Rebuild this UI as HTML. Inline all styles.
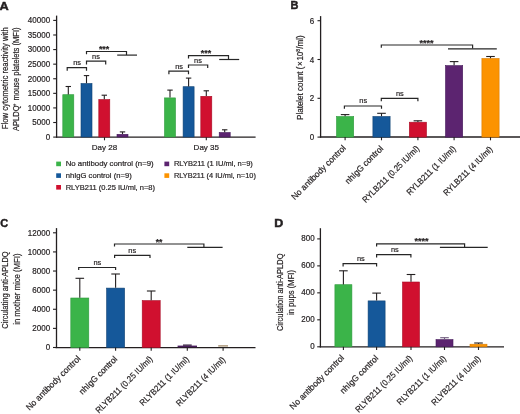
<!DOCTYPE html>
<html><head><meta charset="utf-8"><style>
html,body{margin:0;padding:0;background:#fff;}
svg{display:block;will-change:transform;}
text{font-family:"Liberation Sans",sans-serif;stroke:#231f20;stroke-width:0.2px;}
</style></head><body>
<svg width="520" height="414" viewBox="0 0 520 414" font-family="Liberation Sans, sans-serif">
<rect width="520" height="414" fill="#fff"/>
<text x="-0.40" y="9.50" font-size="11" text-anchor="start" font-weight="bold" fill="#231f20" textLength="9.2" lengthAdjust="spacingAndGlyphs" style="stroke-width:0.45px">A</text>
<line x1="56.60" y1="15.60" x2="56.60" y2="137.60" stroke="#231f20" stroke-width="1.3"/>
<line x1="53.20" y1="137.10" x2="56.60" y2="137.10" stroke="#231f20" stroke-width="1.1"/>
<text x="50.10" y="139.85" font-size="8.4" text-anchor="end" font-weight="normal" fill="#231f20" textLength="4.45" lengthAdjust="spacingAndGlyphs">0</text>
<line x1="53.20" y1="122.51" x2="56.60" y2="122.51" stroke="#231f20" stroke-width="1.1"/>
<text x="50.10" y="125.26" font-size="8.4" text-anchor="end" font-weight="normal" fill="#231f20" textLength="17.8" lengthAdjust="spacingAndGlyphs">5000</text>
<line x1="53.20" y1="107.92" x2="56.60" y2="107.92" stroke="#231f20" stroke-width="1.1"/>
<text x="50.10" y="110.67" font-size="8.4" text-anchor="end" font-weight="normal" fill="#231f20" textLength="22.25" lengthAdjust="spacingAndGlyphs">10000</text>
<line x1="53.20" y1="93.34" x2="56.60" y2="93.34" stroke="#231f20" stroke-width="1.1"/>
<text x="50.10" y="96.09" font-size="8.4" text-anchor="end" font-weight="normal" fill="#231f20" textLength="22.25" lengthAdjust="spacingAndGlyphs">15000</text>
<line x1="53.20" y1="78.75" x2="56.60" y2="78.75" stroke="#231f20" stroke-width="1.1"/>
<text x="50.10" y="81.50" font-size="8.4" text-anchor="end" font-weight="normal" fill="#231f20" textLength="22.25" lengthAdjust="spacingAndGlyphs">20000</text>
<line x1="53.20" y1="64.16" x2="56.60" y2="64.16" stroke="#231f20" stroke-width="1.1"/>
<text x="50.10" y="66.91" font-size="8.4" text-anchor="end" font-weight="normal" fill="#231f20" textLength="22.25" lengthAdjust="spacingAndGlyphs">25000</text>
<line x1="53.20" y1="49.58" x2="56.60" y2="49.58" stroke="#231f20" stroke-width="1.1"/>
<text x="50.10" y="52.33" font-size="8.4" text-anchor="end" font-weight="normal" fill="#231f20" textLength="22.25" lengthAdjust="spacingAndGlyphs">30000</text>
<line x1="53.20" y1="34.99" x2="56.60" y2="34.99" stroke="#231f20" stroke-width="1.1"/>
<text x="50.10" y="37.74" font-size="8.4" text-anchor="end" font-weight="normal" fill="#231f20" textLength="22.25" lengthAdjust="spacingAndGlyphs">35000</text>
<line x1="53.20" y1="20.40" x2="56.60" y2="20.40" stroke="#231f20" stroke-width="1.1"/>
<text x="50.10" y="23.15" font-size="8.4" text-anchor="end" font-weight="normal" fill="#231f20" textLength="22.25" lengthAdjust="spacingAndGlyphs">40000</text>
<line x1="56.00" y1="137.05" x2="255.60" y2="137.05" stroke="#231f20" stroke-width="1.3"/>
<line x1="104.50" y1="137.00" x2="104.50" y2="140.30" stroke="#231f20" stroke-width="1.1"/>
<line x1="206.30" y1="137.00" x2="206.30" y2="140.30" stroke="#231f20" stroke-width="1.1"/>
<text x="104.50" y="150.00" font-size="8.0" text-anchor="middle" font-weight="normal" fill="#231f20">Day 28</text>
<text x="206.30" y="150.00" font-size="8.0" text-anchor="middle" font-weight="normal" fill="#231f20">Day 35</text>
<rect x="62.80" y="94.70" width="11.00" height="42.30" fill="#3bb449" stroke="#2f9a3c" stroke-width="0.6"/>
<line x1="68.30" y1="94.40" x2="68.30" y2="86.50" stroke="#231f20" stroke-width="1.1"/>
<line x1="65.60" y1="86.50" x2="71.00" y2="86.50" stroke="#231f20" stroke-width="1.1"/>
<rect x="81.00" y="83.50" width="11.00" height="53.50" fill="#15589a" stroke="#0f4272" stroke-width="0.6"/>
<line x1="86.50" y1="83.20" x2="86.50" y2="75.60" stroke="#231f20" stroke-width="1.1"/>
<line x1="83.80" y1="75.60" x2="89.20" y2="75.60" stroke="#231f20" stroke-width="1.1"/>
<rect x="98.80" y="99.50" width="11.00" height="37.50" fill="#d0102f" stroke="#a80d26" stroke-width="0.6"/>
<line x1="104.30" y1="99.20" x2="104.30" y2="95.20" stroke="#231f20" stroke-width="1.1"/>
<line x1="101.60" y1="95.20" x2="107.00" y2="95.20" stroke="#231f20" stroke-width="1.1"/>
<rect x="117.00" y="134.30" width="11.00" height="2.70" fill="#5c2470" stroke="#45195a" stroke-width="0.6"/>
<line x1="122.50" y1="134.00" x2="122.50" y2="131.90" stroke="#231f20" stroke-width="1.1"/>
<line x1="119.80" y1="131.90" x2="125.20" y2="131.90" stroke="#231f20" stroke-width="1.1"/>
<rect x="164.50" y="97.90" width="11.00" height="39.10" fill="#3bb449" stroke="#2f9a3c" stroke-width="0.6"/>
<line x1="170.00" y1="97.60" x2="170.00" y2="90.10" stroke="#231f20" stroke-width="1.1"/>
<line x1="167.30" y1="90.10" x2="172.70" y2="90.10" stroke="#231f20" stroke-width="1.1"/>
<rect x="183.10" y="86.70" width="11.00" height="50.30" fill="#15589a" stroke="#0f4272" stroke-width="0.6"/>
<line x1="188.60" y1="86.40" x2="188.60" y2="78.10" stroke="#231f20" stroke-width="1.1"/>
<line x1="185.90" y1="78.10" x2="191.30" y2="78.10" stroke="#231f20" stroke-width="1.1"/>
<rect x="200.80" y="96.30" width="11.00" height="40.70" fill="#d0102f" stroke="#a80d26" stroke-width="0.6"/>
<line x1="206.30" y1="96.00" x2="206.30" y2="90.80" stroke="#231f20" stroke-width="1.1"/>
<line x1="203.60" y1="90.80" x2="209.00" y2="90.80" stroke="#231f20" stroke-width="1.1"/>
<rect x="219.20" y="132.50" width="11.00" height="4.50" fill="#5c2470" stroke="#45195a" stroke-width="0.6"/>
<line x1="224.70" y1="132.20" x2="224.70" y2="129.80" stroke="#231f20" stroke-width="1.1"/>
<line x1="222.00" y1="129.80" x2="227.40" y2="129.80" stroke="#231f20" stroke-width="1.1"/>
<path d="M67.20 70.80 V67.70 H86.50 V70.80" fill="none" stroke="#262626" stroke-width="1.2"/>
<text x="77.10" y="65.10" font-size="8.0" text-anchor="middle" font-weight="normal" fill="#231f20" textLength="7.8" lengthAdjust="spacingAndGlyphs">ns</text>
<path d="M86.50 64.40 V61.20 H105.70 V64.40" fill="none" stroke="#262626" stroke-width="1.2"/>
<text x="96.00" y="58.80" font-size="8.0" text-anchor="middle" font-weight="normal" fill="#231f20" textLength="7.8" lengthAdjust="spacingAndGlyphs">ns</text>
<path d="M86.50 54.20 V51.50 H126.50 V55.10" fill="none" stroke="#262626" stroke-width="1.2"/>
<text x="104.10" y="51.90" font-size="8.8" text-anchor="middle" font-weight="bold" fill="#231f20" textLength="10.400000000000002" lengthAdjust="spacingAndGlyphs">***</text>
<line x1="117.20" y1="55.10" x2="137.00" y2="55.10" stroke="#262626" stroke-width="1.2"/>
<path d="M168.90 74.30 V71.10 H188.50 V74.30" fill="none" stroke="#262626" stroke-width="1.2"/>
<text x="179.10" y="68.70" font-size="8.0" text-anchor="middle" font-weight="normal" fill="#231f20" textLength="7.8" lengthAdjust="spacingAndGlyphs">ns</text>
<path d="M188.50 67.90 V65.00 H207.70 V67.90" fill="none" stroke="#262626" stroke-width="1.2"/>
<text x="198.00" y="62.50" font-size="8.0" text-anchor="middle" font-weight="normal" fill="#231f20" textLength="7.8" lengthAdjust="spacingAndGlyphs">ns</text>
<path d="M188.50 58.60 V55.70 H228.50 V59.60" fill="none" stroke="#262626" stroke-width="1.2"/>
<text x="206.00" y="56.40" font-size="8.8" text-anchor="middle" font-weight="bold" fill="#231f20" textLength="10.400000000000002" lengthAdjust="spacingAndGlyphs">***</text>
<line x1="219.20" y1="59.50" x2="239.20" y2="59.50" stroke="#262626" stroke-width="1.2"/>
<g transform="translate(8.4,78.2) rotate(-90)">
<text x="0.00" y="0.00" font-size="8.8" text-anchor="middle" font-weight="normal" fill="#231f20" textLength="102" lengthAdjust="spacingAndGlyphs">Flow cytometric reactivity with</text>
</g>
<g transform="translate(19.3,79.3) rotate(-90)">
<text x="0.00" y="0.00" font-size="8.8" text-anchor="middle" font-weight="normal" fill="#231f20" textLength="103.6" lengthAdjust="spacingAndGlyphs">APLDQ<tspan font-size="5.5" dy="-3.3" dx="-0.9">+</tspan><tspan dy="3.3" dx="0.9"> mouse platelets (MFI)</tspan></text>
</g>
<rect x="56.20" y="161.60" width="4.8" height="4.6" fill="#3bb449"/>
<text x="65.70" y="166.30" font-size="7.8" text-anchor="start" font-weight="normal" fill="#231f20" textLength="88" lengthAdjust="spacingAndGlyphs">No antibody control (n=9)</text>
<rect x="56.20" y="173.30" width="4.8" height="4.6" fill="#15589a"/>
<text x="65.70" y="178.00" font-size="7.8" text-anchor="start" font-weight="normal" fill="#231f20" textLength="66.0" lengthAdjust="spacingAndGlyphs">nhIgG control (n=9)</text>
<rect x="56.20" y="185.00" width="4.8" height="4.6" fill="#d0102f"/>
<text x="65.70" y="189.70" font-size="7.8" text-anchor="start" font-weight="normal" fill="#231f20" textLength="89.3" lengthAdjust="spacingAndGlyphs">RLYB211 (0.25 IU/ml, n=8)</text>
<rect x="164.40" y="161.60" width="4.8" height="4.6" fill="#5c2470"/>
<text x="173.90" y="166.30" font-size="7.8" text-anchor="start" font-weight="normal" fill="#231f20" textLength="79" lengthAdjust="spacingAndGlyphs">RLYB211 (1 IU/ml, n=9)</text>
<rect x="164.40" y="173.30" width="4.8" height="4.6" fill="#fc9300"/>
<text x="173.90" y="178.00" font-size="7.8" text-anchor="start" font-weight="normal" fill="#231f20" textLength="82" lengthAdjust="spacingAndGlyphs">RLYB211 (4 IU/ml, n=10)</text>
<text x="290.40" y="9.20" font-size="11" text-anchor="start" font-weight="bold" fill="#231f20" style="stroke-width:0.45px">B</text>
<line x1="320.60" y1="16.10" x2="320.60" y2="137.60" stroke="#231f20" stroke-width="1.3"/>
<line x1="317.50" y1="137.10" x2="320.50" y2="137.10" stroke="#231f20" stroke-width="1.1"/>
<text x="314.10" y="140.20" font-size="8.4" text-anchor="end" font-weight="normal" fill="#231f20" textLength="4.45" lengthAdjust="spacingAndGlyphs">0</text>
<line x1="317.50" y1="98.30" x2="320.50" y2="98.30" stroke="#231f20" stroke-width="1.1"/>
<text x="314.10" y="101.40" font-size="8.4" text-anchor="end" font-weight="normal" fill="#231f20" textLength="4.45" lengthAdjust="spacingAndGlyphs">2</text>
<line x1="317.50" y1="59.50" x2="320.50" y2="59.50" stroke="#231f20" stroke-width="1.1"/>
<text x="314.10" y="62.60" font-size="8.4" text-anchor="end" font-weight="normal" fill="#231f20" textLength="4.45" lengthAdjust="spacingAndGlyphs">4</text>
<line x1="317.50" y1="20.70" x2="320.50" y2="20.70" stroke="#231f20" stroke-width="1.1"/>
<text x="314.10" y="23.80" font-size="8.4" text-anchor="end" font-weight="normal" fill="#231f20" textLength="4.45" lengthAdjust="spacingAndGlyphs">6</text>
<line x1="319.90" y1="137.00" x2="520.00" y2="137.00" stroke="#231f20" stroke-width="1.3"/>
<rect x="336.50" y="116.50" width="17.20" height="20.60" fill="#3bb449" stroke="#2f9a3c" stroke-width="0.6"/>
<line x1="345.10" y1="116.20" x2="345.10" y2="114.60" stroke="#231f20" stroke-width="1.1"/>
<line x1="340.80" y1="114.60" x2="349.40" y2="114.60" stroke="#231f20" stroke-width="1.1"/>
<line x1="345.10" y1="137.10" x2="345.10" y2="140.30" stroke="#231f20" stroke-width="1.1"/>
<rect x="372.90" y="116.50" width="17.20" height="20.60" fill="#15589a" stroke="#0f4272" stroke-width="0.6"/>
<line x1="381.50" y1="116.20" x2="381.50" y2="113.30" stroke="#231f20" stroke-width="1.1"/>
<line x1="377.20" y1="113.30" x2="385.80" y2="113.30" stroke="#231f20" stroke-width="1.1"/>
<line x1="381.50" y1="137.10" x2="381.50" y2="140.30" stroke="#231f20" stroke-width="1.1"/>
<rect x="409.30" y="122.20" width="17.20" height="14.90" fill="#d0102f" stroke="#a80d26" stroke-width="0.6"/>
<line x1="417.90" y1="121.90" x2="417.90" y2="120.80" stroke="#231f20" stroke-width="1.1"/>
<line x1="413.60" y1="120.80" x2="422.20" y2="120.80" stroke="#231f20" stroke-width="1.1"/>
<line x1="417.90" y1="137.10" x2="417.90" y2="140.30" stroke="#231f20" stroke-width="1.1"/>
<rect x="445.50" y="65.60" width="17.20" height="71.50" fill="#5c2470" stroke="#45195a" stroke-width="0.6"/>
<line x1="454.10" y1="65.30" x2="454.10" y2="61.60" stroke="#231f20" stroke-width="1.1"/>
<line x1="449.80" y1="61.60" x2="458.40" y2="61.60" stroke="#231f20" stroke-width="1.1"/>
<line x1="454.10" y1="137.10" x2="454.10" y2="140.30" stroke="#231f20" stroke-width="1.1"/>
<rect x="481.90" y="58.50" width="17.20" height="78.60" fill="#fc9300" stroke="#d97c00" stroke-width="0.6"/>
<line x1="490.50" y1="58.20" x2="490.50" y2="56.50" stroke="#231f20" stroke-width="1.1"/>
<line x1="486.20" y1="56.50" x2="494.80" y2="56.50" stroke="#231f20" stroke-width="1.1"/>
<line x1="490.50" y1="137.10" x2="490.50" y2="140.30" stroke="#231f20" stroke-width="1.1"/>
<path d="M344.40 108.80 V106.00 H381.50 V108.80" fill="none" stroke="#262626" stroke-width="1.2"/>
<text x="363.20" y="103.10" font-size="8.0" text-anchor="middle" font-weight="normal" fill="#231f20" textLength="7.8" lengthAdjust="spacingAndGlyphs">ns</text>
<path d="M381.30 101.30 V98.40 H417.90 V101.30" fill="none" stroke="#262626" stroke-width="1.2"/>
<text x="399.90" y="96.00" font-size="8.0" text-anchor="middle" font-weight="normal" fill="#231f20" textLength="7.8" lengthAdjust="spacingAndGlyphs">ns</text>
<path d="M381.30 47.80 V45.00 H472.60 V48.60" fill="none" stroke="#262626" stroke-width="1.2"/>
<text x="426.60" y="45.80" font-size="8.8" text-anchor="middle" font-weight="bold" fill="#231f20" textLength="14.100000000000001" lengthAdjust="spacingAndGlyphs">****</text>
<line x1="448.00" y1="48.80" x2="496.80" y2="48.80" stroke="#262626" stroke-width="1.2"/>
<g transform="translate(302.6,77.65) rotate(-90)">
<text x="0.00" y="0.00" font-size="8.8" text-anchor="middle" font-weight="normal" fill="#231f20" textLength="84.5" lengthAdjust="spacingAndGlyphs">Platelet count (<tspan dx="0.6">×</tspan><tspan dx="0.8">10</tspan><tspan font-size="5.8" dy="-2.4">8</tspan><tspan dy="2.4">/ml)</tspan></text>
</g>
<g transform="translate(346.40,148.60) rotate(-45)">
<text x="0.00" y="0.00" font-size="8.6" text-anchor="end" font-weight="normal" fill="#231f20" textLength="73.0" lengthAdjust="spacingAndGlyphs">No antibody control</text>
</g>
<g transform="translate(383.80,149.10) rotate(-45)">
<text x="0.00" y="0.00" font-size="8.6" text-anchor="end" font-weight="normal" fill="#231f20" textLength="50.0" lengthAdjust="spacingAndGlyphs">nhIgG control</text>
</g>
<g transform="translate(419.80,149.20) rotate(-45)">
<text x="0.00" y="0.00" font-size="8.6" text-anchor="end" font-weight="normal" fill="#231f20" textLength="76.5" lengthAdjust="spacingAndGlyphs">RYLB211 (0.25 IU/ml)</text>
</g>
<g transform="translate(456.30,149.40) rotate(-45)">
<text x="0.00" y="0.00" font-size="8.6" text-anchor="end" font-weight="normal" fill="#231f20" textLength="65.6" lengthAdjust="spacingAndGlyphs">RYLB211 (1 IU/ml)</text>
</g>
<g transform="translate(493.20,149.80) rotate(-45)">
<text x="0.00" y="0.00" font-size="8.6" text-anchor="end" font-weight="normal" fill="#231f20" textLength="65.6" lengthAdjust="spacingAndGlyphs">RYLB211 (4 IU/ml)</text>
</g>
<text x="0.20" y="226.70" font-size="11" text-anchor="start" font-weight="bold" fill="#231f20" style="stroke-width:0.45px">C</text>
<line x1="56.50" y1="228.10" x2="56.50" y2="348.10" stroke="#231f20" stroke-width="1.3"/>
<line x1="53.00" y1="347.50" x2="56.50" y2="347.50" stroke="#231f20" stroke-width="1.1"/>
<text x="50.10" y="350.25" font-size="8.4" text-anchor="end" font-weight="normal" fill="#231f20" textLength="4.45" lengthAdjust="spacingAndGlyphs">0</text>
<line x1="53.00" y1="328.38" x2="56.50" y2="328.38" stroke="#231f20" stroke-width="1.1"/>
<text x="50.10" y="331.13" font-size="8.4" text-anchor="end" font-weight="normal" fill="#231f20" textLength="17.8" lengthAdjust="spacingAndGlyphs">2000</text>
<line x1="53.00" y1="309.27" x2="56.50" y2="309.27" stroke="#231f20" stroke-width="1.1"/>
<text x="50.10" y="312.02" font-size="8.4" text-anchor="end" font-weight="normal" fill="#231f20" textLength="17.8" lengthAdjust="spacingAndGlyphs">4000</text>
<line x1="53.00" y1="290.15" x2="56.50" y2="290.15" stroke="#231f20" stroke-width="1.1"/>
<text x="50.10" y="292.90" font-size="8.4" text-anchor="end" font-weight="normal" fill="#231f20" textLength="17.8" lengthAdjust="spacingAndGlyphs">6000</text>
<line x1="53.00" y1="271.03" x2="56.50" y2="271.03" stroke="#231f20" stroke-width="1.1"/>
<text x="50.10" y="273.78" font-size="8.4" text-anchor="end" font-weight="normal" fill="#231f20" textLength="17.8" lengthAdjust="spacingAndGlyphs">8000</text>
<line x1="53.00" y1="251.92" x2="56.50" y2="251.92" stroke="#231f20" stroke-width="1.1"/>
<text x="50.10" y="254.67" font-size="8.4" text-anchor="end" font-weight="normal" fill="#231f20" textLength="22.25" lengthAdjust="spacingAndGlyphs">10000</text>
<line x1="53.00" y1="232.80" x2="56.50" y2="232.80" stroke="#231f20" stroke-width="1.1"/>
<text x="50.10" y="235.55" font-size="8.4" text-anchor="end" font-weight="normal" fill="#231f20" textLength="22.25" lengthAdjust="spacingAndGlyphs">12000</text>
<line x1="55.50" y1="347.60" x2="255.50" y2="347.60" stroke="#231f20" stroke-width="1.2"/>
<rect x="70.80" y="298.00" width="18.00" height="49.60" fill="#3bb449" stroke="#2f9a3c" stroke-width="0.6"/>
<line x1="79.80" y1="297.70" x2="79.80" y2="278.30" stroke="#231f20" stroke-width="1.1"/>
<line x1="75.50" y1="278.30" x2="84.10" y2="278.30" stroke="#231f20" stroke-width="1.1"/>
<line x1="79.80" y1="347.60" x2="79.80" y2="350.80" stroke="#231f20" stroke-width="1.1"/>
<rect x="106.60" y="288.10" width="18.00" height="59.50" fill="#15589a" stroke="#0f4272" stroke-width="0.6"/>
<line x1="115.60" y1="287.80" x2="115.60" y2="274.00" stroke="#231f20" stroke-width="1.1"/>
<line x1="111.30" y1="274.00" x2="119.90" y2="274.00" stroke="#231f20" stroke-width="1.1"/>
<line x1="115.60" y1="347.60" x2="115.60" y2="350.80" stroke="#231f20" stroke-width="1.1"/>
<rect x="142.20" y="300.60" width="18.00" height="47.00" fill="#d0102f" stroke="#a80d26" stroke-width="0.6"/>
<line x1="151.20" y1="300.30" x2="151.20" y2="291.00" stroke="#231f20" stroke-width="1.1"/>
<line x1="146.90" y1="291.00" x2="155.50" y2="291.00" stroke="#231f20" stroke-width="1.1"/>
<line x1="151.20" y1="347.60" x2="151.20" y2="350.80" stroke="#231f20" stroke-width="1.1"/>
<line x1="187.30" y1="347.60" x2="187.30" y2="350.80" stroke="#231f20" stroke-width="1.1"/>
<line x1="223.10" y1="347.60" x2="223.10" y2="350.80" stroke="#231f20" stroke-width="1.1"/>
<rect x="177.6" y="345.6" width="19.4" height="1.6" fill="#4a1d5e"/>
<line x1="183.00" y1="345.10" x2="191.70" y2="345.10" stroke="#2a1035" stroke-width="1.2"/>
<line x1="218.20" y1="345.90" x2="228.00" y2="345.90" stroke="#a08a68" stroke-width="1.3"/>
<path d="M78.70 270.00 V267.50 H115.60 V270.00" fill="none" stroke="#262626" stroke-width="1.2"/>
<text x="97.40" y="264.70" font-size="8.0" text-anchor="middle" font-weight="normal" fill="#231f20" textLength="7.8" lengthAdjust="spacingAndGlyphs">ns</text>
<path d="M114.60 257.90 V255.40 H150.00 V257.90" fill="none" stroke="#262626" stroke-width="1.2"/>
<text x="132.20" y="252.55" font-size="8.0" text-anchor="middle" font-weight="normal" fill="#231f20" textLength="7.8" lengthAdjust="spacingAndGlyphs">ns</text>
<path d="M114.50 246.60 V244.00 H203.90 V247.20" fill="none" stroke="#262626" stroke-width="1.2"/>
<text x="159.05" y="244.60" font-size="8.8" text-anchor="middle" font-weight="bold" fill="#231f20" textLength="6.7" lengthAdjust="spacingAndGlyphs">**</text>
<line x1="187.30" y1="247.40" x2="222.60" y2="247.40" stroke="#262626" stroke-width="1.2"/>
<g transform="translate(8.4,290.1) rotate(-90)">
<text x="0.00" y="0.00" font-size="8.8" text-anchor="middle" font-weight="normal" fill="#231f20" textLength="77.4" lengthAdjust="spacingAndGlyphs">Circulating anti-APLDQ</text>
</g>
<g transform="translate(19.5,289.15) rotate(-90)">
<text x="0.00" y="0.00" font-size="8.8" text-anchor="middle" font-weight="normal" fill="#231f20" textLength="71.3" lengthAdjust="spacingAndGlyphs">in mother mice (MFI)</text>
</g>
<g transform="translate(81.10,359.10) rotate(-45)">
<text x="0.00" y="0.00" font-size="8.6" text-anchor="end" font-weight="normal" fill="#231f20" textLength="73.0" lengthAdjust="spacingAndGlyphs">No antibody control</text>
</g>
<g transform="translate(117.90,359.60) rotate(-45)">
<text x="0.00" y="0.00" font-size="8.6" text-anchor="end" font-weight="normal" fill="#231f20" textLength="50.0" lengthAdjust="spacingAndGlyphs">nhIgG control</text>
</g>
<g transform="translate(153.10,359.70) rotate(-45)">
<text x="0.00" y="0.00" font-size="8.6" text-anchor="end" font-weight="normal" fill="#231f20" textLength="76.5" lengthAdjust="spacingAndGlyphs">RLYB211 (0.25 IU/ml)</text>
</g>
<g transform="translate(189.50,359.90) rotate(-45)">
<text x="0.00" y="0.00" font-size="8.6" text-anchor="end" font-weight="normal" fill="#231f20" textLength="65.6" lengthAdjust="spacingAndGlyphs">RLYB211 (1 IU/ml)</text>
</g>
<g transform="translate(225.80,360.30) rotate(-45)">
<text x="0.00" y="0.00" font-size="8.6" text-anchor="end" font-weight="normal" fill="#231f20" textLength="65.6" lengthAdjust="spacingAndGlyphs">RLYB211 (4 IU/ml)</text>
</g>
<text x="274.20" y="226.70" font-size="11" text-anchor="start" font-weight="bold" fill="#231f20" textLength="9.0" lengthAdjust="spacingAndGlyphs" style="stroke-width:0.45px">D</text>
<line x1="320.40" y1="228.20" x2="320.40" y2="347.40" stroke="#231f20" stroke-width="1.3"/>
<line x1="317.20" y1="346.80" x2="320.40" y2="346.80" stroke="#231f20" stroke-width="1.1"/>
<text x="314.70" y="349.00" font-size="8.4" text-anchor="end" font-weight="normal" fill="#231f20" textLength="4.45" lengthAdjust="spacingAndGlyphs">0</text>
<line x1="317.20" y1="319.82" x2="320.40" y2="319.82" stroke="#231f20" stroke-width="1.1"/>
<text x="314.70" y="322.02" font-size="8.4" text-anchor="end" font-weight="normal" fill="#231f20" textLength="13.350000000000001" lengthAdjust="spacingAndGlyphs">200</text>
<line x1="317.20" y1="292.85" x2="320.40" y2="292.85" stroke="#231f20" stroke-width="1.1"/>
<text x="314.70" y="295.05" font-size="8.4" text-anchor="end" font-weight="normal" fill="#231f20" textLength="13.350000000000001" lengthAdjust="spacingAndGlyphs">400</text>
<line x1="317.20" y1="265.88" x2="320.40" y2="265.88" stroke="#231f20" stroke-width="1.1"/>
<text x="314.70" y="268.07" font-size="8.4" text-anchor="end" font-weight="normal" fill="#231f20" textLength="13.350000000000001" lengthAdjust="spacingAndGlyphs">600</text>
<line x1="317.20" y1="238.90" x2="320.40" y2="238.90" stroke="#231f20" stroke-width="1.1"/>
<text x="314.70" y="241.10" font-size="8.4" text-anchor="end" font-weight="normal" fill="#231f20" textLength="13.350000000000001" lengthAdjust="spacingAndGlyphs">800</text>
<line x1="319.80" y1="346.80" x2="504.00" y2="346.80" stroke="#231f20" stroke-width="1.3"/>
<rect x="334.90" y="284.70" width="17.00" height="62.10" fill="#3bb449" stroke="#2f9a3c" stroke-width="0.6"/>
<line x1="343.40" y1="284.40" x2="343.40" y2="270.80" stroke="#231f20" stroke-width="1.1"/>
<line x1="339.10" y1="270.80" x2="347.70" y2="270.80" stroke="#231f20" stroke-width="1.1"/>
<line x1="343.40" y1="346.80" x2="343.40" y2="350.00" stroke="#231f20" stroke-width="1.1"/>
<rect x="368.10" y="300.90" width="17.00" height="45.90" fill="#15589a" stroke="#0f4272" stroke-width="0.6"/>
<line x1="376.60" y1="300.60" x2="376.60" y2="293.10" stroke="#231f20" stroke-width="1.1"/>
<line x1="372.30" y1="293.10" x2="380.90" y2="293.10" stroke="#231f20" stroke-width="1.1"/>
<line x1="376.60" y1="346.80" x2="376.60" y2="350.00" stroke="#231f20" stroke-width="1.1"/>
<rect x="402.50" y="282.00" width="17.00" height="64.80" fill="#d0102f" stroke="#a80d26" stroke-width="0.6"/>
<line x1="411.00" y1="281.70" x2="411.00" y2="274.50" stroke="#231f20" stroke-width="1.1"/>
<line x1="406.70" y1="274.50" x2="415.30" y2="274.50" stroke="#231f20" stroke-width="1.1"/>
<line x1="411.00" y1="346.80" x2="411.00" y2="350.00" stroke="#231f20" stroke-width="1.1"/>
<rect x="436.00" y="339.60" width="17.00" height="7.20" fill="#5c2470" stroke="#45195a" stroke-width="0.6"/>
<line x1="444.50" y1="339.30" x2="444.50" y2="337.70" stroke="#6e5a7c" stroke-width="1.1"/>
<line x1="440.20" y1="337.70" x2="448.80" y2="337.70" stroke="#6e5a7c" stroke-width="1.1"/>
<line x1="444.50" y1="346.80" x2="444.50" y2="350.00" stroke="#231f20" stroke-width="1.1"/>
<rect x="470.00" y="344.20" width="17.00" height="2.60" fill="#fc9300" stroke="#d97c00" stroke-width="0.6"/>
<line x1="478.50" y1="343.90" x2="478.50" y2="343.00" stroke="#231f20" stroke-width="1.1"/>
<line x1="474.20" y1="343.00" x2="482.80" y2="343.00" stroke="#231f20" stroke-width="1.1"/>
<line x1="478.50" y1="346.80" x2="478.50" y2="350.00" stroke="#231f20" stroke-width="1.1"/>
<path d="M343.10 266.60 V263.60 H376.60 V266.60" fill="none" stroke="#262626" stroke-width="1.2"/>
<text x="360.90" y="261.20" font-size="8.0" text-anchor="middle" font-weight="normal" fill="#231f20" textLength="7.8" lengthAdjust="spacingAndGlyphs">ns</text>
<path d="M376.60 257.50 V254.60 H410.90 V257.50" fill="none" stroke="#262626" stroke-width="1.2"/>
<text x="394.90" y="252.10" font-size="8.0" text-anchor="middle" font-weight="normal" fill="#231f20" textLength="7.8" lengthAdjust="spacingAndGlyphs">ns</text>
<path d="M376.60 246.50 V243.80 H464.60 V247.10" fill="none" stroke="#262626" stroke-width="1.2"/>
<text x="421.60" y="244.30" font-size="8.8" text-anchor="middle" font-weight="bold" fill="#231f20" textLength="14.100000000000001" lengthAdjust="spacingAndGlyphs">****</text>
<line x1="439.90" y1="247.30" x2="487.70" y2="247.30" stroke="#262626" stroke-width="1.2"/>
<g transform="translate(283.0,292.3) rotate(-90)">
<text x="0.00" y="0.00" font-size="8.8" text-anchor="middle" font-weight="normal" fill="#231f20" textLength="77.6" lengthAdjust="spacingAndGlyphs">Circulation anti-APLDQ</text>
</g>
<g transform="translate(294.1,292.45) rotate(-90)">
<text x="0.00" y="0.00" font-size="8.8" text-anchor="middle" font-weight="normal" fill="#231f20" textLength="45" lengthAdjust="spacingAndGlyphs">in pups (MFI)</text>
</g>
<g transform="translate(344.70,358.30) rotate(-45)">
<text x="0.00" y="0.00" font-size="8.6" text-anchor="end" font-weight="normal" fill="#231f20" textLength="73.0" lengthAdjust="spacingAndGlyphs">No antibody control</text>
</g>
<g transform="translate(378.90,358.80) rotate(-45)">
<text x="0.00" y="0.00" font-size="8.6" text-anchor="end" font-weight="normal" fill="#231f20" textLength="50.0" lengthAdjust="spacingAndGlyphs">nhIgG control</text>
</g>
<g transform="translate(412.90,358.90) rotate(-45)">
<text x="0.00" y="0.00" font-size="8.6" text-anchor="end" font-weight="normal" fill="#231f20" textLength="76.5" lengthAdjust="spacingAndGlyphs">RLYB211 (0.25 IU/ml)</text>
</g>
<g transform="translate(446.70,359.10) rotate(-45)">
<text x="0.00" y="0.00" font-size="8.6" text-anchor="end" font-weight="normal" fill="#231f20" textLength="65.6" lengthAdjust="spacingAndGlyphs">RLYB211 (1 IU/ml)</text>
</g>
<g transform="translate(481.20,359.50) rotate(-45)">
<text x="0.00" y="0.00" font-size="8.6" text-anchor="end" font-weight="normal" fill="#231f20" textLength="65.6" lengthAdjust="spacingAndGlyphs">RLYB211 (4 IU/ml)</text>
</g>
</svg>
</body></html>
